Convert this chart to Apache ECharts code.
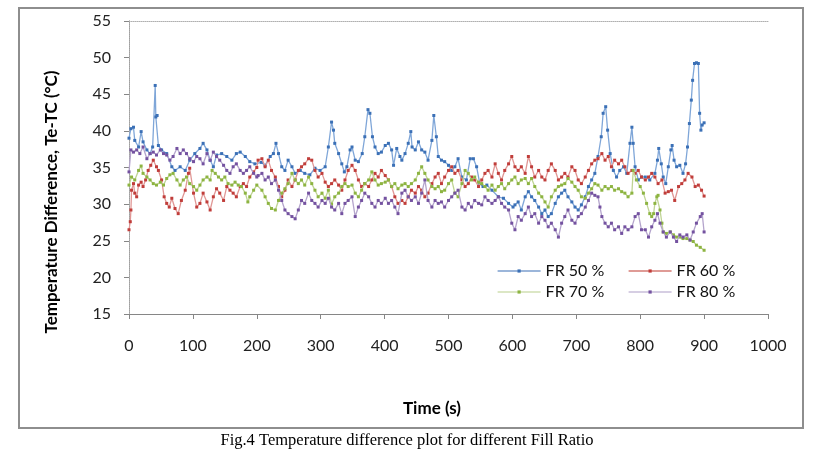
<!DOCTYPE html>
<html>
<head>
<meta charset="utf-8">
<script src="https://cdn.jsdelivr.net/npm/echarts@6/dist/echarts.min.js"></script>
<style>
html,body{margin:0;padding:0;background:#fff;}
#chart{width:826px;height:456px;}
</style>
</head>
<body>
<div id="chart"></div>
<script>
// ---- data ----
const seriesNames = ['FR 50 %', 'FR 60 %', 'FR 70 %', 'FR 80 %'];
const xTicks = [0,100,200,300,400,500,600,700,800,900,1000];
const yTicks = [15,20,25,30,35,40,45,50,55];

const fr50Time = [0,3,7,9,15,19,22,28,33,37,41,42,44,46,51,59,67,72,80,88,95,103,111,116,122,127,132,137,145,153,161,168,174,182,189,197,207,213,221,226,230,234,239,244,249,255,260,268,275,283,291,299,307,312,317,320,322,328,333,337,341,346,349,354,359,365,369,374,377,381,385,390,395,401,406,411,414,419,424,427,432,437,441,443,448,453,458,463,468,474,477,481,484,489,494,500,505,510,515,521,528,534,539,544,549,554,560,568,578,586,594,601,604,609,614,620,625,630,635,641,646,651,656,661,667,672,677,682,687,693,698,703,708,714,719,724,729,734,739,742,746,749,753,758,763,768,774,779,784,787,789,792,797,802,808,815,823,827,829,833,836,840,844,848,850,853,857,862,867,871,874,877,880,882,885,888,891,893,895,897,900];
const fr50Temp = [39.0,40.3,40.5,38.7,37.8,39.9,38.5,37.4,36.9,37.8,46.2,41.9,42.1,38.0,37.4,36.9,35.1,34.6,35.1,34.6,36.0,36.9,37.6,38.3,37.4,36.0,35.1,36.7,36.9,36.5,36.0,36.9,37.1,36.5,35.8,35.5,35.7,35.3,36.5,36.9,38.3,36.9,35.1,34.6,36.0,35.1,34.2,34.6,34.2,34.0,34.9,34.6,35.1,37.8,41.2,40.1,38.3,36.9,35.5,34.4,35.1,37.4,37.8,36.0,35.8,36.9,39.2,42.9,42.4,39.2,37.8,36.9,37.1,38.0,38.3,37.4,35.3,37.6,36.5,36.0,36.9,38.3,39.9,37.8,37.4,38.5,37.4,37.1,36.0,38.7,42.1,39.2,36.5,36.0,35.8,35.3,34.6,35.1,36.2,33.7,33.3,36.2,36.2,35.1,32.8,32.4,32.6,31.9,31.0,30.8,30.1,29.6,29.9,30.3,29.2,31.0,31.7,31.0,30.5,29.6,28.7,29.2,28.3,28.7,30.1,31.0,31.5,31.9,31.0,30.3,29.6,29.2,29.9,31.0,32.4,33.3,34.2,36.5,39.2,42.4,43.3,40.1,36.9,34.6,33.7,34.6,35.1,34.2,38.3,40.5,38.3,35.1,33.3,33.7,33.7,33.3,34.2,36.0,37.6,35.5,33.7,32.8,35.1,37.4,38.0,36.0,35.1,35.3,34.2,35.5,37.8,41.0,44.2,46.9,49.2,49.3,49.2,42.4,40.1,40.8,41.1];

const fr60Time = [0,2,3,4,7,9,12,15,19,22,26,30,34,38,43,46,51,55,59,63,67,72,77,82,88,93,95,101,106,111,116,122,127,132,137,142,148,153,158,163,168,174,179,184,189,195,200,202,208,213,218,223,229,234,239,244,249,255,260,265,270,275,281,286,291,296,302,307,312,317,322,328,333,338,343,349,354,359,364,369,375,380,385,390,395,401,406,411,416,421,427,432,437,442,448,453,458,463,468,474,479,484,489,494,500,505,510,515,521,526,531,536,541,547,552,557,562,568,573,578,583,588,594,599,604,609,614,620,625,630,635,641,646,651,656,661,667,672,677,682,687,693,698,703,708,714,719,724,729,734,740,745,750,755,760,766,771,776,781,787,792,797,802,808,813,818,823,828,834,839,844,849,854,860,865,870,875,881,886,891,896,900];
const fr60Temp = [26.5,27.6,29.2,31.9,32.8,31.5,31.0,32.6,33.0,32.4,33.3,34.6,35.3,36.0,35.1,34.6,33.3,31.0,30.1,29.6,30.8,29.4,28.7,30.5,31.9,34.2,34.9,31.5,29.6,30.1,31.5,30.3,29.2,31.0,32.1,31.5,30.5,32.4,31.9,31.5,31.0,32.4,32.8,32.4,33.7,34.4,35.0,36.0,36.2,35.1,36.0,34.6,33.7,32.4,31.0,31.9,33.3,32.4,33.3,34.6,35.1,35.5,36.2,36.0,34.6,33.7,34.2,33.0,32.4,32.8,33.3,32.6,31.9,33.3,34.6,35.3,34.6,33.3,32.4,32.8,32.4,33.3,34.2,33.7,34.6,33.9,33.3,32.4,31.0,30.1,30.5,30.1,31.0,31.9,31.5,32.4,31.9,31.0,31.5,32.8,33.7,34.2,32.8,33.7,34.6,35.1,34.2,34.6,33.3,32.4,32.8,33.7,33.3,32.4,33.3,34.2,34.6,33.7,35.5,34.2,33.3,34.6,35.5,36.5,35.1,34.6,35.1,34.2,36.5,35.1,33.7,34.6,33.7,33.3,34.6,35.5,34.6,33.3,33.7,34.2,33.7,35.1,34.6,33.3,32.8,33.7,34.6,35.5,36.0,36.2,36.9,36.0,36.5,35.1,36.0,35.5,36.0,35.1,34.2,34.6,34.2,34.6,33.7,33.3,33.7,34.2,33.7,32.8,33.3,31.5,31.7,31.9,30.5,32.4,32.8,33.3,34.2,33.7,32.4,32.6,31.9,31.1];

const fr70Time = [0,4,9,15,19,22,28,33,38,43,49,54,59,64,69,75,80,85,90,95,101,106,111,116,122,127,130,135,140,145,150,155,161,166,171,176,182,186,189,195,200,208,213,218,223,229,234,239,244,249,255,260,265,270,275,281,286,291,296,302,307,312,317,322,328,333,338,343,349,354,359,364,369,375,380,385,390,395,401,406,411,416,421,427,432,437,442,448,453,458,463,468,474,479,484,489,494,500,505,510,515,521,526,531,536,541,547,552,557,562,568,573,578,583,588,594,599,604,609,614,620,625,630,635,641,646,651,656,661,667,672,677,682,687,693,698,703,708,714,719,724,729,734,740,745,750,755,760,766,771,776,781,787,789,794,800,805,810,815,818,821,823,826,828,831,834,836,841,847,852,857,862,867,873,878,883,888,894,900];
const fr70Temp = [32.6,33.7,33.3,34.6,35.2,34.2,33.7,33.3,32.8,32.6,33.0,32.6,33.5,34.0,34.2,33.3,32.6,33.3,33.7,32.8,32.4,31.9,32.6,33.3,33.7,33.3,34.6,34.2,33.7,33.3,33.7,32.8,32.6,33.0,32.6,32.4,31.5,30.3,31.0,31.9,32.6,31.9,31.0,30.1,29.4,29.2,30.5,31.5,32.1,32.8,34.2,33.3,32.8,33.3,32.6,33.7,32.8,31.9,31.0,31.5,30.8,31.9,30.0,31.0,31.5,32.4,32.8,32.4,32.6,31.5,31.0,31.9,32.8,33.3,34.4,33.3,32.6,32.8,33.0,33.3,32.4,32.8,32.1,32.6,32.8,32.4,32.8,33.3,34.2,35.1,34.2,33.3,32.4,32.1,32.4,31.7,31.9,32.8,33.3,31.5,31.0,32.8,34.6,34.2,33.3,33.7,33.0,32.8,32.4,31.9,32.6,31.9,32.4,32.8,32.1,32.8,33.3,33.7,32.8,33.3,33.5,32.8,33.5,32.4,31.5,31.0,30.3,29.6,31.0,31.9,32.4,32.6,32.8,33.5,33.0,32.4,31.9,31.0,30.8,31.5,32.1,32.8,32.6,31.9,32.4,32.1,32.4,31.9,32.1,31.7,31.5,31.0,31.5,34.6,33.3,32.4,31.5,30.1,28.7,28.3,28.7,30.1,31.0,31.2,29.2,27.4,26.2,26.0,26.2,25.8,25.5,25.5,25.3,25.3,25.1,24.9,24.4,24.1,23.7];

const fr80Time = [0,3,7,12,17,22,28,33,38,43,49,54,59,64,69,75,80,85,90,95,101,106,111,116,122,127,132,137,142,148,153,158,163,168,174,179,184,189,195,200,202,208,213,218,223,229,234,239,244,249,255,260,265,270,275,281,286,291,296,302,307,312,317,322,328,333,338,343,349,354,359,364,369,375,380,385,390,395,401,406,411,416,421,427,432,437,442,448,453,458,463,468,474,479,484,489,494,500,505,510,515,521,526,531,536,541,547,552,557,562,568,573,578,583,588,594,599,604,609,614,620,625,630,635,641,646,651,656,661,667,672,677,682,687,693,698,703,708,714,719,724,729,734,737,740,745,750,755,760,766,771,776,781,787,792,797,802,808,813,818,823,827,831,836,841,847,852,857,862,867,873,878,883,888,894,897,900];
const fr80Temp = [34.4,37.4,37.1,37.4,36.9,37.8,36.2,36.9,37.1,36.7,37.4,36.9,36.7,36.0,36.5,37.6,36.9,37.4,36.9,36.2,35.8,36.5,36.2,35.5,36.9,36.0,37.1,36.5,36.0,35.3,34.6,34.2,35.1,35.5,34.6,34.2,34.6,35.1,34.2,33.7,33.9,34.2,33.3,33.7,32.8,33.3,31.9,30.5,29.2,28.7,28.3,28.0,29.2,30.5,30.1,31.5,30.5,30.1,29.6,30.5,30.1,30.8,29.6,29.2,30.1,28.7,30.1,30.5,31.0,28.3,29.6,30.5,31.5,31.0,30.1,29.6,30.5,30.1,30.8,30.1,30.5,29.6,28.7,31.5,31.9,31.0,30.5,31.0,30.1,31.5,33.3,30.5,29.6,30.5,30.1,30.3,29.6,30.5,31.0,31.5,31.9,29.6,29.2,30.1,29.6,30.5,30.1,29.9,31.0,30.5,30.1,30.5,31.0,30.1,29.6,29.2,27.4,26.5,28.3,27.8,28.7,29.6,28.3,28.7,27.4,28.3,27.8,26.9,27.4,26.5,25.5,27.4,28.3,29.2,27.8,27.4,28.3,28.7,29.6,30.5,31.5,31.2,31.0,29.6,28.3,27.4,26.9,27.4,26.5,26.9,26.0,26.9,26.5,26.9,28.3,28.7,26.5,26.5,25.5,26.9,27.8,28.7,27.4,26.2,25.5,26.2,25.5,24.9,25.8,25.5,25.8,25.1,26.2,27.4,28.3,28.7,26.2];

// ---- build ----
const times = [fr50Time, fr60Time, fr70Time, fr80Time];
const temps = [fr50Temp, fr60Temp, fr70Temp, fr80Temp];
const lineColors = ['#7fa6d8', '#e09795', '#bfd494', '#b4a4cc'];
const markColors = ['#3b70b6', '#c03d3a', '#8db441', '#7452a0'];
const legendLine = ['#3a6fb6', '#c0392f', '#b9d08b', '#ad9dc8'];
const legendPos = [[497, 263], [628, 263], [497, 284], [628, 284]];
const FONT = 'Lato, "Open Sans", sans-serif';

const series = seriesNames.map((name, i) => ({
  name: name,
  type: 'line',
  data: times[i].map((t, k) => [t, temps[i][k]]),
  showSymbol: true,
  symbol: 'rect',
  symbolSize: [3, 3],
  lineStyle: { color: lineColors[i], width: 1.3 },
  itemStyle: { color: markColors[i] },
  emphasis: { disabled: true },
  animation: false,
  z: 3 + i
}));

const legends = seriesNames.map((name, i) => ({
  data: [{ name: name, itemStyle: { color: markColors[i] }, lineStyle: { color: legendLine[i], width: 1.2 } }],
  left: legendPos[i][0],
  top: legendPos[i][1],
  itemWidth: 43,
  itemHeight: 4,
  itemGap: 0,
  textStyle: { fontFamily: FONT, fontSize: 16, color: '#111', padding: [0, 0, 0, 0] },
  padding: 0,
  selectedMode: false
}));

const chart = echarts.init(document.getElementById('chart'), null, { renderer: 'canvas' });
chart.setOption({
  backgroundColor: '#ffffff',
  animation: false,
  grid: { left: 129, right: 58, top: 21, bottom: 142, containLabel: false },
  legend: legends,
  xAxis: [{
    type: 'value', min: 0, max: 1000, interval: 100,
    axisLine: { show: true, lineStyle: { color: '#868686', width: 1 } },
    axisTick: { show: true, inside: false, length: 5, lineStyle: { color: '#868686' } },
    axisLabel: { margin: 24, fontFamily: FONT, fontSize: 16, color: '#222',
      formatter: v => xTicks.indexOf(v) >= 0 ? String(v) : '' },
    splitLine: { show: false }
  }, {
    type: 'value', min: 0, max: 1000, position: 'top',
    axisLine: { show: true, lineStyle: { color: '#b0b0b0', type: 'dotted' } },
    axisTick: { show: false }, axisLabel: { show: false }, splitLine: { show: false }
  }],
  yAxis: [{
    type: 'value', min: 15, max: 55, interval: 5,
    axisLine: { show: true, lineStyle: { color: '#868686', width: 1 } },
    axisTick: { show: true, inside: false, length: 5, lineStyle: { color: '#868686' } },
    axisLabel: { margin: 18, fontFamily: FONT, fontSize: 16, color: '#222',
      formatter: v => yTicks.indexOf(v) >= 0 ? String(v) : '' },
    splitLine: { show: false }
  }, {
    type: 'value', min: 15, max: 55, position: 'right',
    axisLine: { show: true, lineStyle: { color: '#b0b0b0', type: 'dotted' } },
    axisTick: { show: false }, axisLabel: { show: false }, splitLine: { show: false }
  }],
  series: series,
  graphic: [
    { type: 'rect', shape: { x: 19, y: 8, width: 784, height: 420 },
      style: { fill: 'none', stroke: '#8e8e8e', lineWidth: 2 }, silent: true, z: -1 },
    { type: 'text', rotation: Math.PI / 2, x: 52, y: 202,
      style: { text: 'Temperature Difference, Te-TC (°C)', fontFamily: FONT, fontSize: 17, fontWeight: 'bold',
        fill: '#000', align: 'center', verticalAlign: 'middle' } },
    { type: 'text', x: 432, y: 409,
      style: { text: 'Time (s)', fontFamily: FONT, fontSize: 17, fontWeight: 'bold', fill: '#000',
        align: 'center', verticalAlign: 'middle' } },
    { type: 'text', x: 407, y: 441,
      style: { text: 'Fig.4 Temperature difference plot for different Fill Ratio', fontFamily: '"Liberation Serif", "Times New Roman", serif',
        fontSize: 16.5, fill: '#000', align: 'center', verticalAlign: 'middle' } }
  ]
});
</script>
</body>
</html>
